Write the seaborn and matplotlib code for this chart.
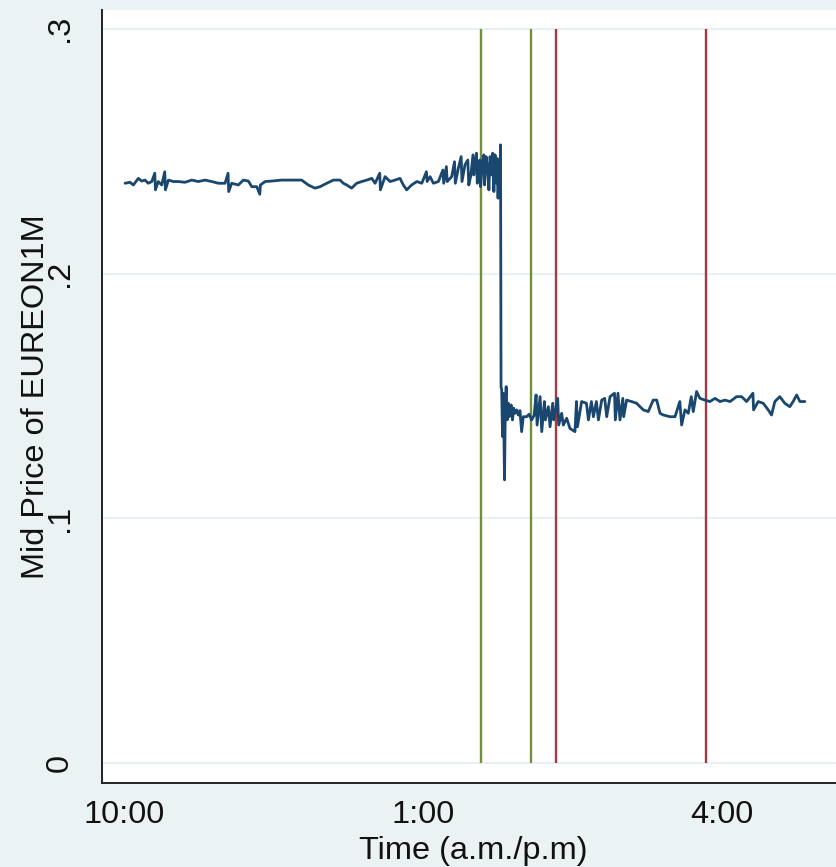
import matplotlib
matplotlib.use("Agg")
import matplotlib.pyplot as plt
import seaborn as sns
import pandas as pd
import numpy as np

# ---- data ----
# minutes after 10:00 a.m.
time_min = [
    0.6, 3.6, 5.6, 8.6, 10.6, 12.6, 14.6, 16.7, 18.5, 18.9, 20.6, 22.7, 24.5, 24.9,
    26.7, 29.7, 32.7, 36.7, 40.7, 44.7, 48.7, 52.8, 56.8, 60.8, 62.6, 63.0, 64.8,
    68.8, 71.8, 74.8, 76.9, 79.9, 81.7, 82.1, 84.9, 88.9, 94.9, 100.9, 106.9, 110.9,
    114.9, 118.0, 122.0, 126.0, 130.0, 132.0, 134.0, 137.0, 140.0, 143.1, 146.1,
    149.1, 151.1, 153.9, 154.3, 157.1, 160.1, 163.1, 166.1, 168.1, 170.1, 173.1,
    176.2, 179.2, 182.0, 182.4, 184.2, 186.2, 189.2, 191.9, 192.4, 194.0, 194.5,
    197.2, 198.9, 199.4, 201.2, 202.9, 203.4, 205.2, 206.9, 207.5, 208.8, 210.0,
    210.5, 211.3, 212.1, 212.6, 213.4, 214.1, 214.6, 215.6, 216.5, 217.0, 217.9,
    218.8, 219.6, 220.3, 221.1, 221.9, 222.6, 223.3, 224.0, 224.6, 225.1, 225.6,
    226.2, 226.6, 226.9,
    227.3, 227.8, 228.3, 229.0, 229.5, 230.0, 230.6, 231.3, 231.8, 232.3, 233.0,
    233.8, 234.5, 235.3, 236.3, 237.3, 238.3, 239.3, 240.3, 242.3, 243.8, 245.3,
    246.8, 248.0, 248.6, 250.4, 251.4, 253.0, 253.6, 255.4, 256.4, 258.0, 258.6,
    261.0, 261.6, 263.4, 264.4, 266.4, 268.4, 271.4, 272.3, 272.9, 275.4, 278.3,
    279.5, 281.3, 282.5, 284.3, 285.5, 287.5, 289.3, 290.5, 292.5, 295.2, 295.7,
    297.3, 298.5, 300.2, 300.7, 302.5, 305.5, 308.5, 312.5, 315.5, 318.5, 320.6,
    322.6, 324.6, 328.6, 331.6, 334.5, 335.6, 337.6, 339.6, 341.4, 342.6, 344.6,
    346.6, 349.6, 352.6, 355.7, 358.7, 361.7, 364.7, 368.7, 371.7, 374.7, 378.5,
    378.9, 381.7, 384.7, 387.7, 389.7, 391.7, 394.7, 397.7, 400.7, 402.7, 404.8,
    406.8, 409.8,
]
mid_price = [
    .2369, .2373, .2362, .2389, .2378, .2382, .2369, .2376, .2410, .2342, .2376, .2362, .2416, .2342,
    .2382, .2376, .2376, .2373, .2382, .2376, .2382, .2376, .2369, .2369, .2410, .2335, .2369,
    .2362, .2382, .2378, .2355, .2355, .2324, .2362, .2376, .2378, .2382, .2382, .2382, .2362,
    .2349, .2355, .2369, .2382, .2382, .2369, .2362, .2349, .2369, .2376, .2382,
    .2389, .2369, .2410, .2342, .2396, .2376, .2382, .2389, .2362, .2342, .2362,
    .2376, .2369, .2416, .2376, .2396, .2369, .2376, .2423, .2369, .2437, .2376,
    .2396, .2457, .2369, .2430, .2478, .2376, .2444, .2464, .2362, .2403, .2485,
    .2403, .2450, .2492, .2369, .2437, .2464, .2355, .2450, .2485, .2362, .2478,
    .2437, .2342, .2478, .2403, .2492, .2335, .2485, .2370, .2470, .2308, .2460,
    .2350, .2526, .1538,
    .1524, .1334, .1510, .1157, .1470, .1538, .1402, .1470, .1415, .1443, .1463,
    .1402, .1450, .1429, .1443, .1422, .1440, .1354, .1415, .1415, .1425, .1402,
    .1420, .1504, .1381, .1497, .1354, .1477, .1402, .1456, .1374, .1470, .1402,
    .1490, .1381, .1429, .1381, .1409, .1367, .1354, .1477, .1374, .1477, .1470,
    .1402, .1477, .1415, .1477, .1402, .1483, .1490, .1415, .1497, .1511, .1402,
    .1511, .1402, .1490, .1415, .1483, .1477, .1470, .1443, .1436, .1483, .1483,
    .1429, .1422, .1415, .1415, .1477, .1381, .1443, .1429, .1497, .1436, .1518,
    .1490, .1483, .1477, .1490, .1477, .1483, .1477, .1497, .1497, .1477, .1511,
    .1443, .1477, .1470, .1443, .1422, .1477, .1497, .1470, .1456, .1477, .1504,
    .1477, .1477,
]
# event lines (clock hours)
green_events = [13 + 35 / 60, 14 + 5 / 60]
red_events = [14 + 20 / 60, 15 + 50 / 60]

x_ticks = [10, 13, 16]
x_tick_labels = ["10:00", "1:00", "4:00"]
y_ticks = [0, 0.1, 0.2, 0.3]
y_tick_labels = ["0", ".1", ".2", ".3"]

# ---- figure ----
bg = "#eaf2f3"
sns.set_style("white")
plt.rcParams["font.family"] = ["Liberation Sans", "DejaVu Sans"]

fig = plt.figure(figsize=(8.36, 8.67), dpi=100, facecolor=bg)
ax = fig.add_axes([102 / 836, (867 - 783) / 867, (844 - 102) / 836, (783 - 10) / 867])
ax.set_facecolor("white")

df = pd.DataFrame({"hour": 10 + np.array(time_min) / 60, "price": mid_price})

ax.set_xlim(9.779, 17.222)
ax.set_ylim(-0.00817, 0.3077)

for yv in y_ticks:
    ax.axhline(yv, color="#e3edf0", lw=1.2, zorder=0)

ax.vlines(green_events, 0, 0.3, colors="#6f9234", lw=1.7, zorder=2)
ax.vlines(red_events, 0, 0.3, colors="#a8383f", lw=1.7, zorder=2)

sns.lineplot(data=df, x="hour", y="price", ax=ax, color="#1a476f", lw=2.0,
             estimator=None, zorder=3)

for s in ["top", "right"]:
    ax.spines[s].set_visible(False)
for s in ["left", "bottom"]:
    ax.spines[s].set_color("#222222")
    ax.spines[s].set_linewidth(1.4)

ax.set_xticks(x_ticks)
ax.set_xticklabels(x_tick_labels)
ax.set_yticks(y_ticks)
ax.set_yticklabels(y_tick_labels)
ax.tick_params(axis="both", length=9.5, width=1.1, color="#222222", labelsize=23.4,
               labelcolor="#111111", direction="out")
ax.tick_params(axis="x", pad=3)
ax.tick_params(axis="y", pad=10)
for lab in ax.get_yticklabels():
    lab.set_rotation(90)
    lab.set_va("center")
    lab.set_ha("right")

ax.set_xlabel("Time (a.m./p.m)", fontsize=23.4, color="#111111", labelpad=4)
ax.set_ylabel("Mid Price of EUREON1M", fontsize=23.4, color="#111111")
ax.yaxis.set_label_coords((51 - 102) / 742, 0.5)

fig.savefig("out.png", dpi=100, facecolor=bg)
